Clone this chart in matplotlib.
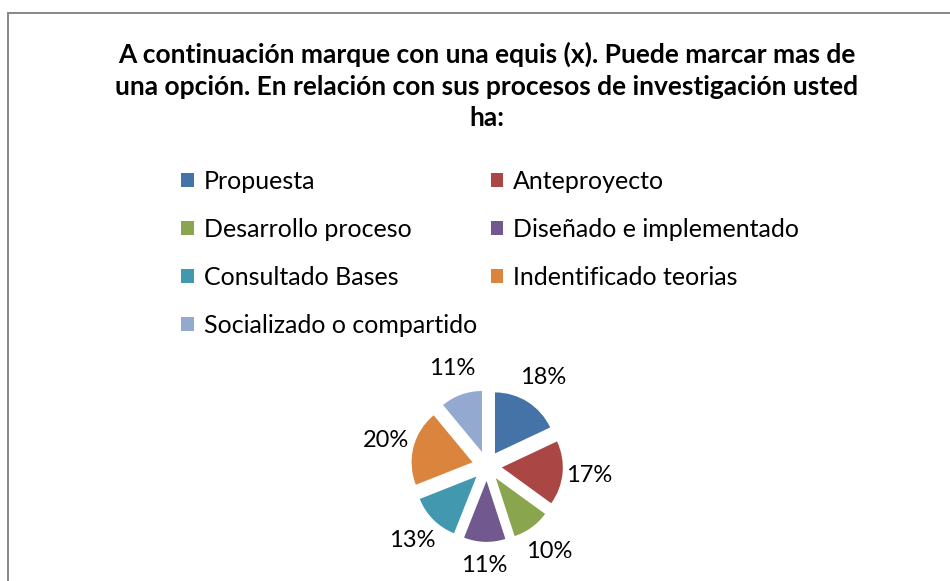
import matplotlib
matplotlib.use("Agg")
import numpy as np
import matplotlib.pyplot as plt
from matplotlib.patches import Rectangle

plt.rcParams['font.family'] = ['Lato', 'DejaVu Sans']

categories = ['Propuesta', 'Anteproyecto', 'Desarrollo proceso', 'Diseñado e implementado',
              'Consultado Bases', 'Indentificado teorias', 'Socializado o compartido']
values = [18, 17, 10, 11, 13, 20, 11]
colors = ['#4572A7', '#AA4643', '#89A54E', '#71588F', '#4198AF', '#DB843D', '#93A9CF']
title = ('A continuación marque con una equis (x). Puede marcar mas de\n'
         'una opción. En relación con sus procesos de investigación usted\n'
         'ha:')

W, H = 950, 581
fig = plt.figure(figsize=(W / 100, H / 100), dpi=100)

# chart border
fig.patches.append(Rectangle((8 / W, -0.1), 1.2, 1.1 - 13 / H, fill=False,
                             edgecolor='#878787', lw=1.4, transform=fig.transFigure))

fig.text(487 / W, 1 - 86 / H, title, ha='center', va='center', fontsize=19,
         fontweight='bold', linespacing=1.36)

cx, cy, half = 487, 466, 100
ax = fig.add_axes([(cx - half) / W, (H - cy - half) / H, 2 * half / W, 2 * half / H])
scale = 61
expl = 0.244
wedges, texts, autotexts = ax.pie(values, colors=colors, startangle=90, counterclock=False,
                                  explode=[expl] * len(values), autopct='%.0f%%',
                                  pctdistance=1.5, textprops={'fontsize': 17})
# labels sit just outside each slice, closer above/below than at the sides
for w, t in zip(wedges, autotexts):
    a = np.deg2rad((w.theta1 + w.theta2) / 2)
    d = 1 + expl + 0.2 + 0.23 * abs(np.cos(a)) + 0.18 * abs(np.sin(a))
    t.set_position((d * np.cos(a), d * np.sin(a)))
ax.set_xlim(-half / scale, half / scale)
ax.set_ylim(-half / scale, half / scale)
ax.set_aspect('equal')
ax.axis('off')

order = [0, 2, 4, 6, 1, 3, 5]
fig.legend([wedges[i] for i in order], [categories[i] for i in order],
           loc='upper left', bbox_to_anchor=(181 / W, 1 - 170 / H), ncol=2,
           frameon=False, fontsize=18, handlelength=0.5, handleheight=0.5,
           handletextpad=0.4, labelspacing=1.0, columnspacing=0.56,
           borderpad=0, borderaxespad=0)

fig.savefig('out.png', dpi=100)
